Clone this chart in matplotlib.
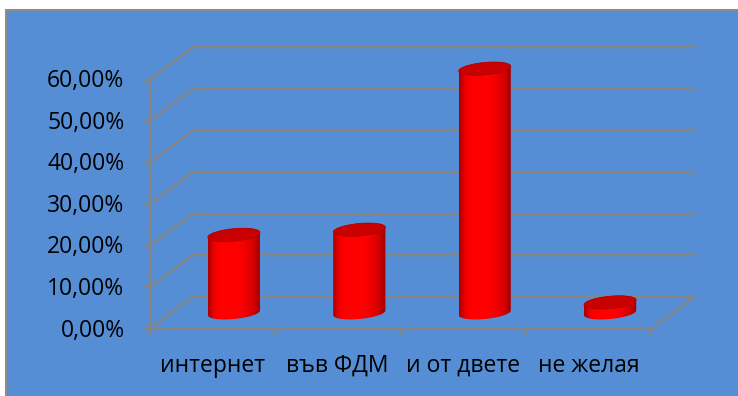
import numpy as np
import matplotlib
matplotlib.use("Agg")
import matplotlib.pyplot as plt
import matplotlib.colors as mcolors
from matplotlib.patches import Rectangle, Polygon
from matplotlib.path import Path

plt.rcParams['font.family'] = ['Open Sans', 'DejaVu Sans']

# data
categories = ['интернет', 'във ФДМ', 'и от двете', 'не желая']
values = [18.75, 20.00, 58.75, 2.50]          # percent
y_ticks = [0, 10, 20, 30, 40, 50, 60]
y_labels = [f"{t:.2f}%".replace('.', ',') for t in y_ticks]

# layout (pixels)
W, H = 738, 396
X0, Y0 = 149.5, 67          # front-left-bottom corner of the plot box
SX, SY = 125.4, 4.155       # px per category / px per percent
DX, DY = 43.4 / SX, 32.4 / SY   # depth offset in data units
A, B = 26.2, 6.2            # cylinder ellipse semi-axes (px)
TILT = np.radians(5.5)

blue = '#558ED5'
grid_c = '#858585'
glw = 1.7

fig = plt.figure(figsize=(W / 100, H / 100), dpi=100)
fig.patch.set_facecolor('white')
fig.patches.append(Rectangle((6.5 / W, -0.1), 1.2, 386 / H + 0.1,
                             transform=fig.transFigure, facecolor=blue,
                             edgecolor='#8C8C8C', lw=1.5, zorder=-1))

ax = fig.add_axes([0, 0, 1, 1])
ax.axis('off')
ax.patch.set_visible(False)

n = len(categories)
ymax = y_ticks[-1]

# back wall and side wall gridlines
for v in y_ticks:
    ax.plot([DX, n + DX], [v + DY, v + DY], color=grid_c, lw=glw, zorder=1)
    ax.plot([0, DX], [v, v + DY], color=grid_c, lw=glw, zorder=1)
# floor right edge, front edge, left axis
ax.plot([n, n + DX], [0, DY], color=grid_c, lw=glw, zorder=1)
ax.plot([0, n], [0, 0], color=grid_c, lw=glw, zorder=1)
ax.plot([0, 0], [0, ymax], color=grid_c, lw=glw, zorder=1)
# ticks
for v, lab in zip(y_ticks, y_labels):
    ax.plot([-6 / SX, 0], [v, v], color=grid_c, lw=glw, zorder=1)
    ax.text(-25 / SX, v - 1.5 / SY, lab, ha='right', va='center',
            fontsize=16.5, color='black')
for i in range(n + 1):
    ax.plot([i, i], [0, -5 / SY], color=grid_c, lw=glw, zorder=1)
for i, c in enumerate(categories):
    ax.text(i + 0.5, -43 / SY, c, ha='center', va='baseline',
            fontsize=16.5, color='black')

# cylinders
body_cmap = mcolors.LinearSegmentedColormap.from_list(
    'cyl', [(0, '#A80000'), (0.12, '#F00000'), (0.25, '#FF0000'),
            (0.6, '#FF0000'), (0.85, '#D80000'), (1, '#9A0000')])


def ellipse(cx, cy, t):
    ex = A * np.cos(t) * np.cos(TILT) - B * np.sin(t) * np.sin(TILT)
    ey = A * np.cos(t) * np.sin(TILT) + B * np.sin(t) * np.cos(TILT)
    return cx + ex / SX, cy + ey / SY


grad = np.linspace(0, 1, 256).reshape(1, -1)
for i, v in enumerate(values):
    cx = i + 0.5 + DX / 2
    y_bot = DY / 2
    y_top = v + DY / 2
    tx, ty = ellipse(cx, y_top, np.linspace(0, np.pi, 60))
    bx, by = ellipse(cx, y_bot, np.linspace(np.pi, 2 * np.pi, 60))
    verts = np.column_stack([np.r_[tx, bx], np.r_[ty, by]])
    im = ax.imshow(grad, cmap=body_cmap, aspect='auto', interpolation='bilinear',
                   extent=[cx - A / SX, cx + A / SX, y_bot - 10 / SY, y_top + 10 / SY],
                   zorder=3)
    im.set_clip_path(Path(verts), ax.transData)
    ex, ey = ellipse(cx, y_top, np.linspace(0, 2 * np.pi, 120))
    ax.add_patch(Polygon(np.column_stack([ex, ey]), closed=True,
                         facecolor='#C80000', edgecolor='#B00000', lw=0.5, zorder=4))

ax.set_xlim(-X0 / SX, (W - X0) / SX)
ax.set_ylim(-Y0 / SY, (H - Y0) / SY)

fig.savefig('out.png', dpi=100)
